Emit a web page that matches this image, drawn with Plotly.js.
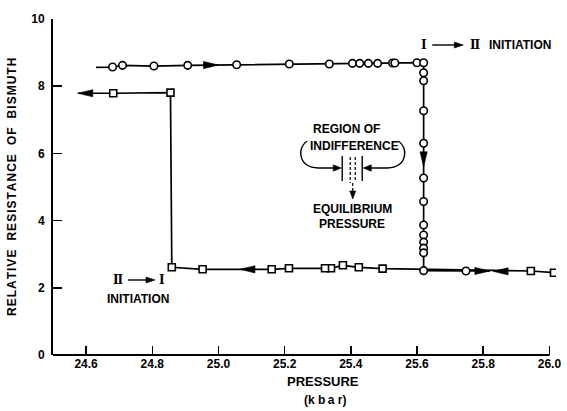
<!DOCTYPE html>
<html><head><meta charset="utf-8">
<script src="https://cdn.plot.ly/plotly-3.0.1.min.js"></script>
<style>html,body{margin:0;padding:0;background:#fff}#chart{width:567px;height:411px}</style>
</head><body><div id="chart"></div>
<script>
// ---------------- data ----------------
const xTicks = [24.6, 24.8, 25.0, 25.2, 25.4, 25.6, 25.8, 26.0];
const xTickLabels = ['24.6', '24.8', '25.0', '25.2', '25.4', '25.6', '25.8', '26.0'];
const yTicks = [0, 2, 4, 6, 8, 10];
const yTickLabels = ['0', '2', '4', '6', '8', '10'];

// increasing pressure (circles): phase I branch
const incTopX = [24.68, 24.71, 24.805, 24.907, 25.055, 25.214, 25.335, 25.405, 25.427, 25.453, 25.481, 25.526, 25.533, 25.600, 25.620];
const incTopY = [8.57, 8.62, 8.60, 8.62, 8.64, 8.66, 8.66, 8.68, 8.68, 8.68, 8.68, 8.69, 8.69, 8.70, 8.70];
// I -> II transition at constant pressure
const incDropX = [25.62, 25.62, 25.62, 25.62, 25.62, 25.62, 25.62, 25.62, 25.62, 25.62, 25.62, 25.62];
const incDropY = [8.40, 8.16, 7.27, 6.30, 5.27, 4.57, 3.87, 3.57, 3.36, 3.18, 3.04, 2.51];
// phase II, after transition
const incLowX = [25.748];
const incLowY = [2.50];
// line ends (no marker)
const incLeadX = 24.63, incLeadY = 8.56;
const incTailX = 25.82, incTailY = 2.50;

// decreasing pressure (squares)
const decX = [26.014, 25.944, 25.496, 25.424, 25.376, 25.340, 25.322, 25.213, 25.161, 24.952, 24.859, 24.855, 24.682];
const decY = [2.45, 2.50, 2.57, 2.61, 2.67, 2.58, 2.58, 2.58, 2.55, 2.55, 2.61, 7.81, 7.79];
const decTailX = 24.575, decTailY = 7.79;

// direction arrows along the curves
const arrowX = [25.0, 24.575, 25.62, 25.065, 25.82, 25.83];
const arrowY = [8.63, 7.79, 5.6, 2.55, 2.50, 2.49];
const arrowDir = ['right', 'left', 'down', 'left', 'right', 'left'];

// ---------------- geometry helpers ----------------
const W = 567, H = 411;
const axisEnd = 26.0;                 // where the drawn x axis stops
const xr = [24.5, 26.02], yr = [0, 10];
const pxPerX = 496 / 1.5;             // keeps 24.5..26.0 spanning x=53..549
const M = {l: 53, t: 19, b: 56};
M.r = W - M.l - (xr[1] - xr[0]) * pxPerX;
const kx = pxPerX;
const ky = (H - M.t - M.b) / (yr[1] - yr[0]);
const X = px => xr[0] + (px - M.l) / kx;
const Y = py => yr[0] + (H - M.b - py) / ky;
const dx = p => p / kx, dy = p => p / ky;
const P = (px, py) => X(px) + ',' + Y(py);

function head(x, y, dir, len, half) {
  let pts;
  if (dir === 'right') pts = [[x, y], [x - dx(len), y + dy(half)], [x - dx(len), y - dy(half)]];
  else if (dir === 'left') pts = [[x, y], [x + dx(len), y + dy(half)], [x + dx(len), y - dy(half)]];
  else pts = [[x, y], [x - dx(half), y + dy(len)], [x + dx(half), y + dy(len)]];
  return {type: 'path', xref: 'x', yref: 'y', layer: 'above',
    path: 'M' + pts.map(p => p[0] + ',' + p[1]).join('L') + 'Z',
    fillcolor: '#000', line: {color: '#000', width: 0.6}};
}
function seg(x0, y0, x1, y1, w, dash) {
  return {type: 'line', xref: 'x', yref: 'y', x0: X(x0), y0: Y(y0), x1: X(x1), y1: Y(y1),
    line: {color: '#000', width: w || 1.4, dash: dash || 'solid'}};
}

const shapes = [];
// x axis line, stopping at 26.0
shapes.push({type: 'line', xref: 'paper', yref: 'paper', x0: 0, x1: (axisEnd - xr[0]) / (xr[1] - xr[0]),
  y0: 0, y1: 0, line: {color: '#000', width: 2}});
for (let i = 0; i < arrowX.length; i++) shapes.push(head(arrowX[i], arrowY[i], arrowDir[i], 15, 3.6));
// region of indifference brackets
shapes.push({type: 'path', xref: 'x', yref: 'y', line: {color: '#000', width: 1.4},
  path: 'M' + P(307, 141) + 'C' + P(297, 147) + ' ' + P(297, 167) + ' ' + P(318, 168) + 'L' + P(336, 168)});
shapes.push({type: 'path', xref: 'x', yref: 'y', line: {color: '#000', width: 1.4},
  path: 'M' + P(398, 141) + 'C' + P(408, 147) + ' ' + P(408, 167) + ' ' + P(387, 168) + 'L' + P(369, 168)});
shapes.push(head(X(341), Y(168), 'right', 8, 3.2));
shapes.push(head(X(363), Y(168), 'left', 8, 3.2));
shapes.push(seg(342, 156, 342, 181, 1.4));
shapes.push(seg(362, 156, 362, 181, 1.4));
shapes.push(seg(350, 157, 350, 183, 1.2, '3px,2px'));
shapes.push(seg(355, 157, 355, 181, 1.2, '3px,2px'));
shapes.push(seg(352.5, 183, 352.5, 192, 1.2, '3px,2px'));
shapes.push(head(X(352.5), Y(199), 'down', 8, 3));
// initiation arrows
shapes.push(seg(432, 45, 456, 45, 1.4));
shapes.push(head(X(463), Y(45), 'right', 9, 3));
shapes.push(seg(128, 280, 148, 280, 1.4));
shapes.push(head(X(155), Y(280), 'right', 9, 3));

// ---------------- traces ----------------
const black = '#000';
const traces = [
  {x: [incLeadX].concat(incTopX, incDropX, incLowX, [incTailX]),
   y: [incLeadY].concat(incTopY, incDropY, incLowY, [incTailY]),
   mode: 'lines', line: {color: black, width: 1.7}, hoverinfo: 'skip', showlegend: false},
  {x: decX.concat([decTailX]), y: decY.concat([decTailY]),
   mode: 'lines', line: {color: black, width: 1.7}, hoverinfo: 'skip', showlegend: false},
  {x: incTopX.concat(incDropX, incLowX), y: incTopY.concat(incDropY, incLowY),
   mode: 'markers', marker: {symbol: 'circle', size: 7.5, color: '#fff', line: {color: black, width: 1.6}},
   showlegend: false},
  {x: decX, y: decY, mode: 'markers',
   marker: {symbol: 'square', size: 7, color: '#fff', line: {color: black, width: 1.6}},
   showlegend: false}
];

const F = {family: 'Liberation Sans, Arial, sans-serif', size: 12, color: '#000', weight: 'bold'};
const FR = {family: 'DejaVu Serif, serif', size: 12, color: '#000', weight: 'bold'};
function txt(px, py, t, font, xanchor, extra) {
  return Object.assign({x: X(px), y: Y(py), xref: 'x', yref: 'y', text: t, showarrow: false,
    font: font || F, xanchor: xanchor || 'center', yanchor: 'middle'}, extra || {});
}
const spaced = s => s.split(' ').map(w => w.split('').join('\u200A')).join('\u00A0\u2009\u00A0');

const plotW = W - M.l - M.r, plotH = H - M.t - M.b;
const annotations = [
  txt(424, 45, '\u2160', FR),
  txt(475, 45, '\u2161', FR),
  txt(487, 45, 'INITIATION', F, 'left'),
  txt(117.5, 280, '\u2161', FR),
  txt(161.5, 280, '\u2160', FR),
  txt(138, 299, 'INITIATION'),
  txt(346, 129, 'REGION OF'),
  txt(354, 146, 'INDIFFERENCE'),
  txt(352, 209, 'EQUILIBRIUM'),
  txt(352, 224, 'PRESSURE'),
  // axis titles
  {x: (323 - M.l) / plotW, y: -(381 - (H - M.b)) / plotH, xref: 'paper', yref: 'paper',
   text: 'PRESSURE', showarrow: false, font: Object.assign({}, F, {size: 13}), xanchor: 'center', yanchor: 'middle'},
  {x: (325 - M.l) / plotW, y: -(400 - (H - M.b)) / plotH, xref: 'paper', yref: 'paper',
   text: '(k b\u2009a r)', showarrow: false, font: F, xanchor: 'center', yanchor: 'middle'},
  {x: -(M.l - 12) / plotW, y: (H - M.b - 187) / plotH, xref: 'paper', yref: 'paper',
   text: spaced('RELATIVE RESISTANCE OF BISMUTH'), textangle: -90, showarrow: false,
   font: Object.assign({}, F, {size: 12}), xanchor: 'center', yanchor: 'middle'}
];

const axisCommon = {linecolor: black, linewidth: 2, ticks: 'inside', ticklen: 9,
  tickwidth: 1.5, tickcolor: black, showgrid: false, zeroline: false, tickfont: F, fixedrange: true};

const layout = {
  width: W, height: H, margin: M, paper_bgcolor: '#fff', plot_bgcolor: '#fff',
  xaxis: Object.assign({}, axisCommon, {showline: false, range: xr, tickmode: 'array', tickvals: xTicks, ticktext: xTickLabels}),
  yaxis: Object.assign({}, axisCommon, {showline: true, range: yr, tickmode: 'array', tickvals: yTicks, ticktext: yTickLabels,
    ticklabelstandoff: 4}),
  shapes: shapes, annotations: annotations, showlegend: false
};
Plotly.newPlot('chart', traces, layout, {staticPlot: true, displayModeBar: false});
</script></body></html>
